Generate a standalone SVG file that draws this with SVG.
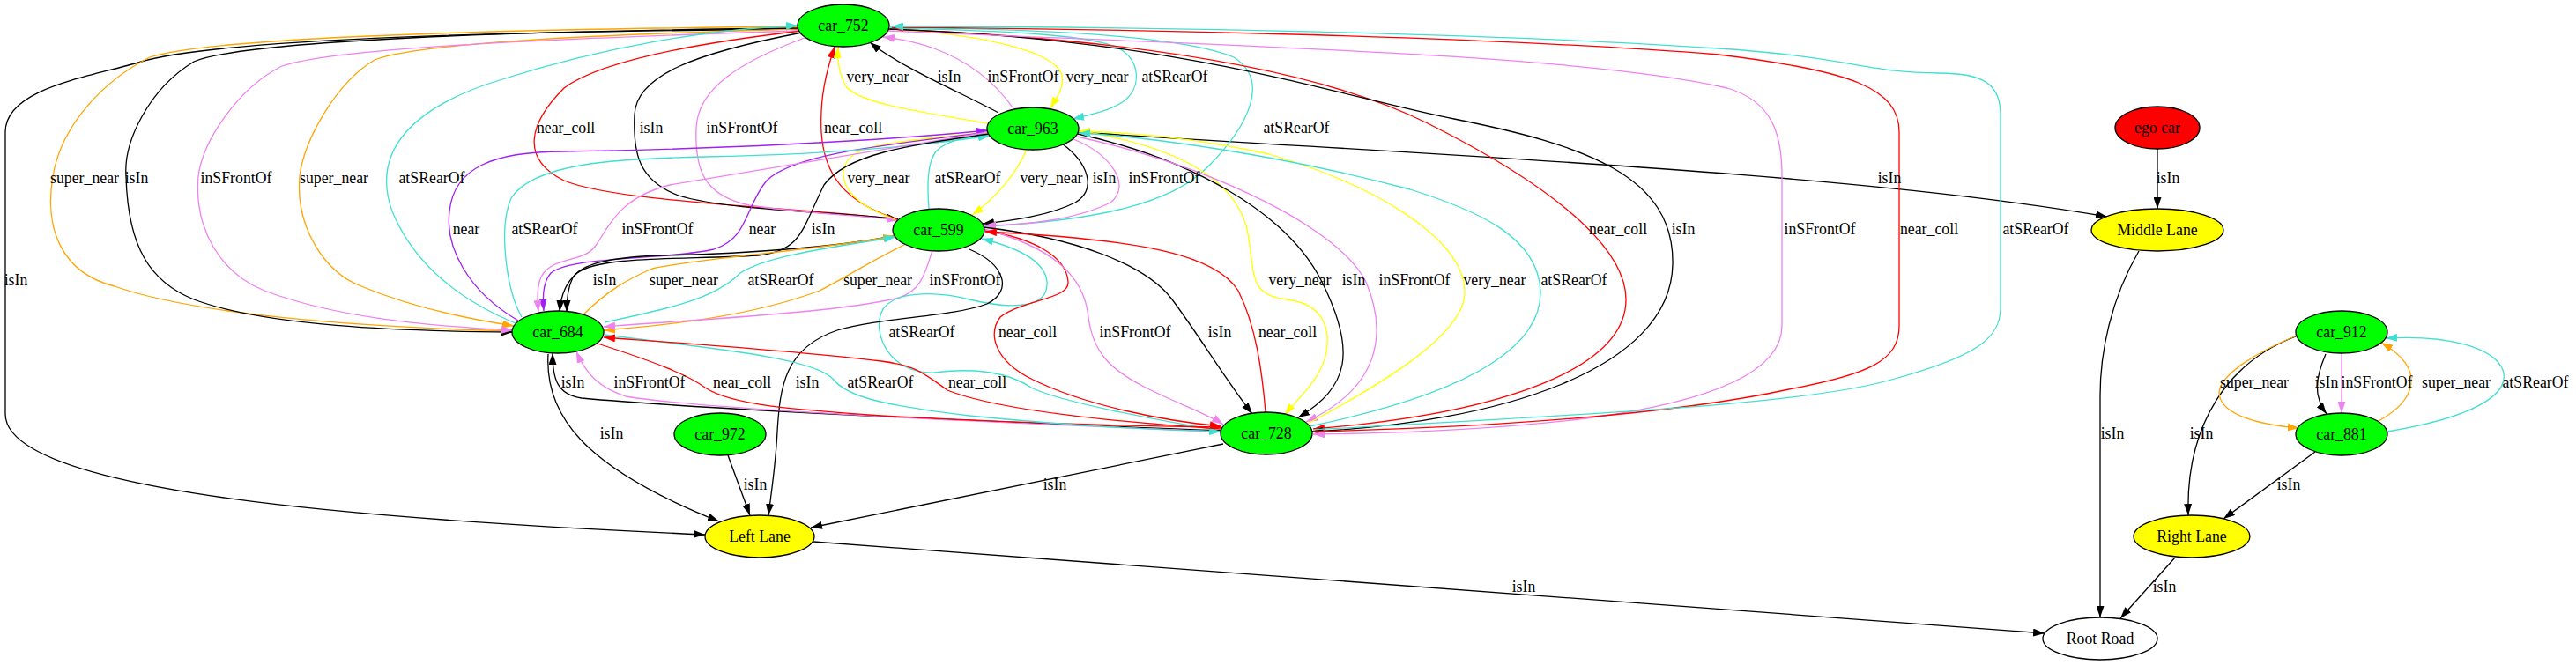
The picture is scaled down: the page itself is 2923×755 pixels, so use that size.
<svg xmlns="http://www.w3.org/2000/svg" width="2923" height="755" viewBox="0 0 2923 755">
<defs>
<marker id="ak" viewBox="0 0 13 9" refX="13" refY="4.5" markerWidth="13" markerHeight="9" orient="auto" markerUnits="userSpaceOnUse"><path d="M0,0 L13,4.5 L0,9 z" fill="#000"/></marker>
<marker id="ar" viewBox="0 0 13 9" refX="13" refY="4.5" markerWidth="13" markerHeight="9" orient="auto" markerUnits="userSpaceOnUse"><path d="M0,0 L13,4.5 L0,9 z" fill="#ff0000"/></marker>
<marker id="ay" viewBox="0 0 13 9" refX="13" refY="4.5" markerWidth="13" markerHeight="9" orient="auto" markerUnits="userSpaceOnUse"><path d="M0,0 L13,4.5 L0,9 z" fill="#ffff00"/></marker>
<marker id="at" viewBox="0 0 13 9" refX="13" refY="4.5" markerWidth="13" markerHeight="9" orient="auto" markerUnits="userSpaceOnUse"><path d="M0,0 L13,4.5 L0,9 z" fill="#40e0d0"/></marker>
<marker id="av" viewBox="0 0 13 9" refX="13" refY="4.5" markerWidth="13" markerHeight="9" orient="auto" markerUnits="userSpaceOnUse"><path d="M0,0 L13,4.5 L0,9 z" fill="#ee82ee"/></marker>
<marker id="ao" viewBox="0 0 13 9" refX="13" refY="4.5" markerWidth="13" markerHeight="9" orient="auto" markerUnits="userSpaceOnUse"><path d="M0,0 L13,4.5 L0,9 z" fill="#ffa500"/></marker>
<marker id="ap" viewBox="0 0 13 9" refX="13" refY="4.5" markerWidth="13" markerHeight="9" orient="auto" markerUnits="userSpaceOnUse"><path d="M0,0 L13,4.5 L0,9 z" fill="#a020f0"/></marker>
</defs>
<style>
.e path{fill:none;stroke-width:1.3}
.k{stroke:#000;marker-end:url(#ak)}
.r{stroke:#ff0000;marker-end:url(#ar)}
.y{stroke:#ffff00;marker-end:url(#ay)}
.t{stroke:#40e0d0;marker-end:url(#at)}
.v{stroke:#ee82ee;marker-end:url(#av)}
.o{stroke:#ffa500;marker-end:url(#ao)}
.p{stroke:#a020f0;marker-end:url(#ap)}
text{font-family:"Liberation Serif","Times New Roman",serif;font-size:17.8px;text-anchor:middle;fill:#000}
.n ellipse{stroke:#000;stroke-width:1.3}
.g{fill:#00ff00}
.yl{fill:#ffff00}
.rd{fill:#ff0000}
.w{fill:#fff}
</style>
<rect width="2923" height="755" fill="#fff"/>
<g id="edges" class="e">
<path class="k" d="M906,33 C600,36 260,42 160,70 C100,88 6,100 6,150 L6,470 C6,560 420,590 800,607"/>
<path class="o" d="M582,376 C350,370 200,350 130,325 C70,310 50,260 60,200 C70,140 120,90 170,65 C230,45 500,34 905,30"/>
<path class="o" d="M905,33 C650,40 470,50 425,68 C380,95 345,160 340,200 C335,260 370,310 410,325 C470,350 530,362 583,370"/>
<path class="k" d="M905,32 C600,35 280,45 220,70 C170,100 140,160 143,200 C145,280 170,320 220,340 C300,370 450,376 582,377"/>
<path class="v" d="M905,35 C600,45 380,55 320,75 C270,100 230,160 225,200 C220,260 250,310 300,330 C380,360 480,370 582,375"/>
<path class="t" d="M585,367 C520,340 470,300 445,240 C420,170 470,120 570,90 C680,55 800,33 905,29"/>
<path class="r" d="M910,35 C780,50 680,70 640,100 C600,140 590,180 640,205 C700,230 900,235 1019,249"/>
<path class="k" d="M910,37 C790,60 722,85 720,130 C718,175 725,205 770,222 C830,240 950,240 1019,249"/>
<path class="v" d="M913,43 C840,70 792,100 790,145 C788,195 800,222 850,233 C910,242 980,245 1019,250"/>
<path class="r" d="M1018,249 C960,230 935,200 932,150 C930,110 938,80 947,53"/>
<path class="y" d="M1121,140 C1050,128 975,118 960,98 C952,85 950,68 951,53"/>
<path class="k" d="M1133,128 C1090,105 1020,75 987,48"/>
<path class="v" d="M1149,122 C1130,95 1100,70 1060,55 C1040,48 1020,44 1002,42"/>
<path class="y" d="M1008,33 C1100,38 1195,55 1205,85 C1208,100 1198,112 1192,123"/>
<path class="t" d="M1010,32 C1150,35 1240,40 1270,55 C1295,70 1295,100 1275,115 C1260,125 1240,130 1217,135"/>
<path class="k" d="M1223,150 C1600,175 2100,195 2391,246"/>
<path class="t" d="M1118,257 C1250,250 1330,230 1370,190 C1420,140 1440,90 1400,65 C1330,35 1100,32 1010,31"/>
<path class="y" d="M1016,249 C975,235 955,215 957,195 C960,170 990,165 1030,160 C1070,155 1100,152 1122,151"/>
<path class="t" d="M1054,237 C1052,210 1052,185 1062,172 C1075,158 1100,155 1123,154"/>
<path class="y" d="M1165,169 C1155,195 1130,225 1103,244"/>
<path class="k" d="M1205,163 C1235,185 1245,215 1220,230 C1190,245 1150,250 1115,254"/>
<path class="v" d="M1218,158 C1260,175 1285,210 1260,230 C1220,250 1160,256 1117,256"/>
<path class="y" d="M1222,148 C1330,165 1400,200 1415,260 C1425,310 1415,335 1460,340 C1500,345 1510,370 1505,400 C1500,430 1470,455 1458,471"/>
<path class="k" d="M1223,152 C1350,180 1460,240 1500,320 C1540,400 1530,440 1473,474"/>
<path class="v" d="M1222,155 C1380,190 1520,260 1550,320 C1575,380 1565,440 1482,479"/>
<path class="y" d="M1484,481 C1560,440 1665,380 1662,330 C1660,270 1560,210 1440,175 C1350,155 1280,150 1224,149"/>
<path class="t" d="M1486,484 C1650,450 1750,400 1748,330 C1745,270 1680,240 1600,215 C1450,175 1300,155 1224,151"/>
<path class="r" d="M1010,33 C1300,45 1500,80 1620,140 C1760,210 1845,280 1845,340 C1845,420 1700,470 1490,487"/>
<path class="k" d="M1008,33 C1350,45 1520,110 1650,135 C1800,165 1900,200 1898,300 C1896,420 1700,480 1488,490"/>
<path class="v" d="M1008,35 C1400,52 1800,62 1960,100 C2010,115 2022,150 2022,200 L2022,370 C2022,420 1950,455 1800,475 C1700,487 1580,492 1490,493"/>
<path class="r" d="M1490,490 C1700,485 1900,470 2030,442 C2120,425 2155,410 2155,370 L2155,150 C2155,100 2100,80 1950,62 C1700,42 1300,33 1012,31"/>
<path class="t" d="M1490,488 C1800,470 2050,460 2150,430 C2240,405 2270,385 2270,350 L2270,130 C2270,95 2250,83 2200,83 C2120,83 2100,65 1950,55 C1700,38 1300,30 1012,30"/>
<path class="p" d="M588,364 C530,330 505,280 510,240 C515,190 560,172 640,172 C800,170 1000,160 1121,148"/>
<path class="p" d="M1121,150 C1000,165 900,175 870,205 C845,235 850,270 810,283 C760,295 650,290 625,310 C615,322 616,340 617,353"/>
<path class="t" d="M592,360 C575,330 565,260 580,225 C605,185 700,180 800,178 C950,175 1050,165 1123,154"/>
<path class="v" d="M1121,150 C1000,170 850,195 760,210 C700,225 690,260 675,280 C660,300 620,290 612,320 C609,332 610,342 611,354"/>
<path class="k" d="M1122,152 C1030,165 960,175 935,210 C910,260 910,285 860,290 C780,295 680,290 655,310 C640,322 636,340 635,354"/>
<path class="k" d="M1014,268 C950,280 850,288 750,290 C690,292 660,300 650,315 C645,325 643,340 643,354"/>
<path class="o" d="M663,356 C690,330 710,318 740,305 C800,292 920,285 1015,268"/>
<path class="t" d="M686,366 C760,350 810,340 840,310 C870,290 950,280 1016,269"/>
<path class="o" d="M1026,278 C990,295 960,315 930,330 C850,360 750,370 685,375"/>
<path class="v" d="M1058,284 C1050,310 1045,330 1020,338 C950,355 800,362 685,371"/>
<path class="t" d="M1385,489 C1300,475 1200,455 1170,440 C1140,420 1100,418 1060,423 C1010,425 990,380 1000,355 C1010,330 1060,330 1100,340 C1150,352 1190,350 1188,320 C1186,295 1150,280 1114,271"/>
<path class="r" d="M1118,262 C1170,270 1210,290 1212,320 C1214,340 1160,340 1135,360 C1120,380 1130,410 1170,430 C1230,460 1320,478 1386,484"/>
<path class="v" d="M1117,260 C1190,280 1230,310 1235,360 C1240,400 1260,420 1300,440 C1340,460 1370,470 1388,482"/>
<path class="k" d="M1116,258 C1220,270 1300,300 1330,340 C1360,380 1390,430 1421,470"/>
<path class="r" d="M1436,468 C1432,420 1425,370 1405,330 C1380,290 1300,272 1118,263"/>
<path class="k" d="M1100,283 C1140,300 1150,330 1120,345 C1080,360 1000,360 950,375 C890,395 885,440 882,490 C880,530 875,560 872,585"/>
<path class="k" d="M1386,489 C1100,478 800,465 660,452 C632,448 627,430 627,401"/>
<path class="v" d="M1386,490 C1100,479 800,465 710,450 C680,440 665,425 654,399"/>
<path class="r" d="M678,390 C740,410 780,425 800,440 C830,460 900,465 1000,472 C1150,480 1300,484 1386,485"/>
<path class="t" d="M686,380 C800,395 920,405 945,430 C960,450 1000,460 1100,472 C1200,482 1300,488 1385,490"/>
<path class="r" d="M1385,487 C1250,478 1130,465 1075,443 C1050,425 1040,415 1000,410 C900,398 780,390 685,383"/>
<path class="k" d="M622,402 C618,470 660,530 816,592"/>
<path class="k" d="M826,517 L851,585"/>
<path class="k" d="M1388,504 L920,599"/>
<path class="k" d="M923,615 L2320,719"/>
<path class="k" d="M2427,285 C2395,340 2383,400 2383,450 L2383,701"/>
<path class="k" d="M2448,169 L2448,237"/>
<path class="k" d="M2605,382 C2530,410 2480,480 2483,585"/>
<path class="o" d="M2606,381 C2560,400 2520,425 2518,445 C2518,470 2560,482 2609,486"/>
<path class="k" d="M2639,402 C2627,430 2625,450 2640,470"/>
<path class="v" d="M2657,401 L2657,469"/>
<path class="o" d="M2699,478 C2740,455 2755,420 2702,389"/>
<path class="t" d="M2709,490 C2800,475 2850,450 2840,420 C2830,395 2780,380 2707,384"/>
<path class="k" d="M2627,513 L2523,589"/>
<path class="k" d="M2468,633 L2406,702"/>
</g>
<g id="edge-labels">
<text x="996" y="93">very_near</text>
<text x="1077" y="93">isIn</text>
<text x="1161" y="93">inSFrontOf</text>
<text x="1245" y="93">very_near</text>
<text x="1333" y="93">atSRearOf</text>
<text x="642" y="151">near_coll</text>
<text x="739" y="151">isIn</text>
<text x="842" y="151">inSFrontOf</text>
<text x="968" y="151">near_coll</text>
<text x="1471" y="151">atSRearOf</text>
<text x="96" y="208">super_near</text>
<text x="155" y="208">isIn</text>
<text x="268" y="208">inSFrontOf</text>
<text x="379" y="208">super_near</text>
<text x="490" y="208">atSRearOf</text>
<text x="997" y="208">very_near</text>
<text x="1098" y="208">atSRearOf</text>
<text x="1193" y="208">very_near</text>
<text x="1253" y="208">isIn</text>
<text x="1321" y="208">inSFrontOf</text>
<text x="2144" y="208">isIn</text>
<text x="2460" y="208">isIn</text>
<text x="529" y="266">near</text>
<text x="618" y="266">atSRearOf</text>
<text x="746" y="266">inSFrontOf</text>
<text x="865" y="266">near</text>
<text x="934" y="266">isIn</text>
<text x="1836" y="266">near_coll</text>
<text x="1910" y="266">isIn</text>
<text x="2065" y="266">inSFrontOf</text>
<text x="2189" y="266">near_coll</text>
<text x="2310" y="266">atSRearOf</text>
<text x="18" y="324">isIn</text>
<text x="686" y="324">isIn</text>
<text x="776" y="324">super_near</text>
<text x="886" y="324">atSRearOf</text>
<text x="996" y="324">super_near</text>
<text x="1095" y="324">inSFrontOf</text>
<text x="1475" y="324">very_near</text>
<text x="1536" y="324">isIn</text>
<text x="1605" y="324">inSFrontOf</text>
<text x="1696" y="324">very_near</text>
<text x="1786" y="324">atSRearOf</text>
<text x="1046" y="383">atSRearOf</text>
<text x="1166" y="383">near_coll</text>
<text x="1288" y="383">inSFrontOf</text>
<text x="1384" y="383">isIn</text>
<text x="1461" y="383">near_coll</text>
<text x="650" y="440">isIn</text>
<text x="737" y="440">inSFrontOf</text>
<text x="842" y="440">near_coll</text>
<text x="916" y="440">isIn</text>
<text x="999" y="440">atSRearOf</text>
<text x="1109" y="440">near_coll</text>
<text x="2558" y="440">super_near</text>
<text x="2640" y="440">isIn</text>
<text x="2697" y="440">inSFrontOf</text>
<text x="2787" y="440">super_near</text>
<text x="2877" y="440">atSRearOf</text>
<text x="694" y="498">isIn</text>
<text x="2397" y="498">isIn</text>
<text x="2498" y="498">isIn</text>
<text x="857" y="556">isIn</text>
<text x="1197" y="556">isIn</text>
<text x="2597" y="556">isIn</text>
<text x="1729" y="672">isIn</text>
<text x="2456" y="672">isIn</text>
</g>
<g id="car_752" class="n"><ellipse class="g" cx="957" cy="29" rx="52" ry="24"/><text x="957" y="35">car_752</text></g>
<g id="car_963" class="n"><ellipse class="g" cx="1172" cy="146" rx="52" ry="24"/><text x="1172" y="152">car_963</text></g>
<g id="car_599" class="n"><ellipse class="g" cx="1065" cy="261" rx="52" ry="24"/><text x="1065" y="267">car_599</text></g>
<g id="car_684" class="n"><ellipse class="g" cx="633" cy="377" rx="52" ry="24"/><text x="633" y="383">car_684</text></g>
<g id="car_728" class="n"><ellipse class="g" cx="1437" cy="492" rx="52" ry="24"/><text x="1437" y="498">car_728</text></g>
<g id="car_972" class="n"><ellipse class="g" cx="817" cy="493" rx="52" ry="24"/><text x="817" y="499">car_972</text></g>
<g id="left_lane" class="n"><ellipse class="yl" cx="862" cy="609" rx="62" ry="24"/><text x="862" y="615">Left Lane</text></g>
<g id="root_road" class="n"><ellipse class="w" cx="2383" cy="725" rx="65" ry="24"/><text x="2383" y="731">Root Road</text></g>
<g id="ego_car" class="n"><ellipse class="rd" cx="2448" cy="145" rx="48" ry="24"/><text x="2448" y="151">ego car</text></g>
<g id="middle_lane" class="n"><ellipse class="yl" cx="2448" cy="261" rx="75" ry="24"/><text x="2448" y="267">Middle Lane</text></g>
<g id="car_912" class="n"><ellipse class="g" cx="2657" cy="377" rx="52" ry="24"/><text x="2657" y="383">car_912</text></g>
<g id="car_881" class="n"><ellipse class="g" cx="2657" cy="493" rx="52" ry="24"/><text x="2657" y="499">car_881</text></g>
<g id="right_lane" class="n"><ellipse class="yl" cx="2487" cy="609" rx="66" ry="24"/><text x="2487" y="615">Right Lane</text></g>
</svg>
